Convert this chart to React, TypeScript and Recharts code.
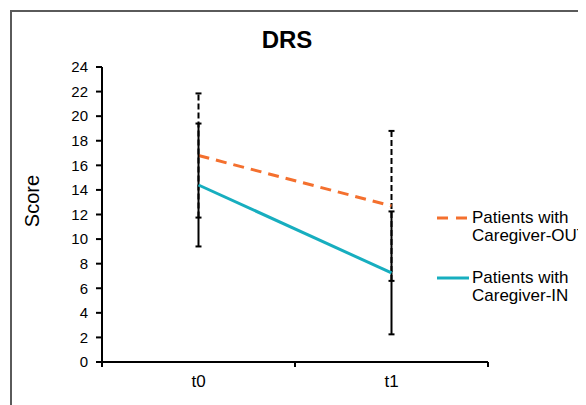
import React from 'react';
import { LineChart, Line, XAxis, YAxis, ErrorBar, Legend } from 'recharts';

const categories = ['t0', 't1'];
const outMeans = [16.8, 12.7];
const outErrors = [5.05, 6.1];
const inMeans = [14.4, 7.25];
const inErrors = [5.0, 5.0];
const yTicks = [0, 2, 4, 6, 8, 10, 12, 14, 16, 18, 20, 22, 24];
const outLabel = ['Patients with', 'Caregiver-OUT'];
const inLabel = ['Patients with', 'Caregiver-IN'];

const ORANGE = '#F4702E';
const TEAL = '#17AEBF';
const FONT = '"Liberation Sans", Arial, Helvetica, sans-serif';

// x sits in the middle of each category band, band edges get the tick marks
const data = categories.map((c, i) => ({
  x: i + 0.5,
  name: c,
  out: outMeans[i],
  outErr: outErrors[i],
  in: inMeans[i],
  inErr: inErrors[i],
}));

const xTicks = [0, 0.5, 1, 1.5, 2];

const XTick = (props: any) => {
  const { x, y, payload } = props;
  const v = payload.value;
  if (Number.isInteger(v)) {
    return <line x1={x} y1={y} x2={x} y2={y + 5} stroke="#000" strokeWidth={2} />;
  }
  return (
    <text x={x} y={y + 25} textAnchor="middle" fontSize={17} fill="#000" fontFamily={FONT}>
      {categories[Math.floor(v)]}
    </text>
  );
};

const LegendItem = ({ lines, color, dashed }: { lines: string[]; color: string; dashed: boolean }) => (
  <div style={{ display: 'flex', alignItems: 'flex-start', whiteSpace: 'nowrap' }}>
    <svg width={35} height={18} style={{ flex: 'none' }}>
      <line
        x1={0}
        y1={9}
        x2={32}
        y2={9}
        stroke={color}
        strokeWidth={3}
        strokeDasharray={dashed ? '11 8' : undefined}
      />
    </svg>
    <div style={{ fontSize: 17, lineHeight: '18px', color: '#000', fontFamily: FONT }}>
      {lines.map((l) => (
        <div key={l}>{l}</div>
      ))}
    </div>
  </div>
);

const renderLegend = () => (
  <div>
    <LegendItem lines={outLabel} color={ORANGE} dashed />
    <div style={{ height: 24 }} />
    <LegendItem lines={inLabel} color={TEAL} dashed={false} />
  </div>
);

export default function App() {
  return (
    <div
      style={{
        marginLeft: 2,
        marginTop: 2,
        width: 574,
        height: 393,
        borderLeft: '2px solid #5a5a5a',
        borderTop: '2px solid #5a5a5a',
        background: '#fff',
        fontFamily: FONT,
      }}
    >
      <LineChart width={574} height={393} data={data} margin={{ top: 55, right: 0, bottom: 3, left: 30 }}>
        <text x={275} y={36} textAnchor="middle" fontSize={24} fontWeight="bold" fill="#000" fontFamily={FONT}>
          DRS
        </text>
        <text
          x={20}
          y={189}
          textAnchor="middle"
          dominantBaseline="central"
          fontSize={20}
          fill="#000"
          fontFamily={FONT}
          transform="rotate(-90, 20, 189)"
        >
          Score
        </text>
        <XAxis
          dataKey="x"
          type="number"
          domain={[0, 2]}
          ticks={xTicks}
          interval={0}
          tick={<XTick />}
          tickLine={false}
          tickSize={0}
          tickMargin={0}
          height={40}
          axisLine={{ stroke: '#000', strokeWidth: 2 }}
        />
        <YAxis
          domain={[0, 24]}
          ticks={yTicks}
          interval={0}
          width={60}
          tickSize={6}
          tickMargin={8}
          tick={{ fill: '#000', fontSize: 15, fontFamily: FONT }}
          tickLine={{ stroke: '#000', strokeWidth: 2 }}
          axisLine={{ stroke: '#000', strokeWidth: 2 }}
        />
        <Legend
          layout="vertical"
          align="right"
          verticalAlign="middle"
          content={renderLegend}
          wrapperStyle={{ left: 425, top: 197, width: 98, overflow: 'visible' }}
        />
        <Line
          dataKey="out"
          name="Patients with Caregiver-OUT"
          stroke={ORANGE}
          strokeWidth={3}
          strokeDasharray="11 7"
          dot={false}
          isAnimationActive={false}
        >
          <ErrorBar
            dataKey="outErr"
            direction="y"
            width={3}
            stroke="#000"
            strokeWidth={2}
            strokeDasharray="6 3"
            isAnimationActive={false}
          />
        </Line>
        <Line
          dataKey="in"
          name="Patients with Caregiver-IN"
          stroke={TEAL}
          strokeWidth={3}
          dot={false}
          isAnimationActive={false}
        >
          <ErrorBar dataKey="inErr" direction="y" width={3} stroke="#000" strokeWidth={2} isAnimationActive={false} />
        </Line>
      </LineChart>
    </div>
  );
}
